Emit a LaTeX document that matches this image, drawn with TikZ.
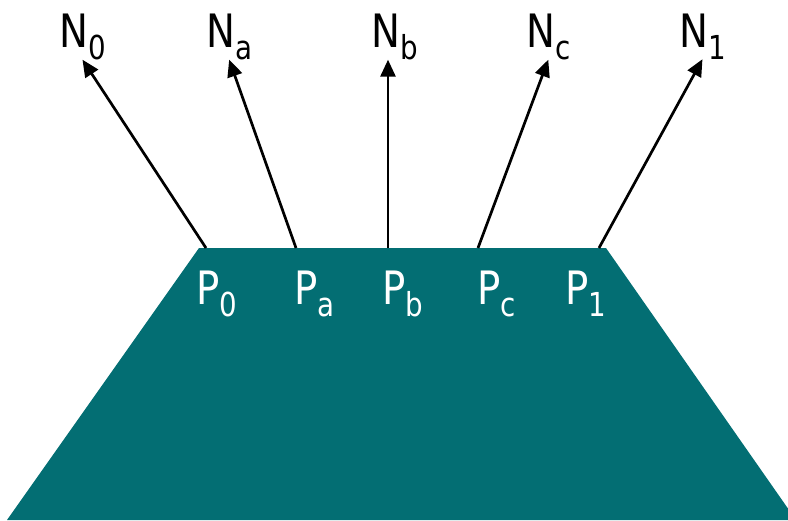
\documentclass[tikz,border=0pt]{standalone}
\usepackage{fontspec}
\setsansfont{DejaVu Sans}[FakeStretch=0.84]
\usepackage{tikz}
\usetikzlibrary{arrows.meta,positioning,calc}
\definecolor{plate}{RGB}{3,110,115}
\newcommand\sbs[1]{\raisebox{-12pt}{\fontsize{33}{33}\selectfont #1}}

\begin{document}
\begin{tikzpicture}[x=1pt,y=-1pt,
  lbl/.style={inner sep=0pt,anchor=base west,font=\sffamily\fontsize{46}{46}\selectfont},
  arr/.style={-{Triangle[length=17pt,width=15pt]},line width=2.7pt}]
\useasboundingbox (0,0) rectangle (788,520);
\fill[plate] (199,248) -- (606,248) -- (796,520) -- (7,520) -- cycle;
% points on the top edge
\coordinate (e0) at (206,248);\coordinate (ea) at (296,248);\coordinate (eb) at (388,248);
\coordinate (ec) at (478,248);\coordinate (e1) at (599,248);
\node[lbl,white] (p0) at (196,304) {P\sbs{0}};
\node[lbl,white] (pa) at (294,304) {P\sbs{a}};
\node[lbl,white] (pb) at (382,304) {P\sbs{b}};
\node[lbl,white] (pc) at (477,304) {P\sbs{c}};
\node[lbl,white] (p1) at (565,304) {P\sbs{1}};
\node[lbl] (n0) at (59,47) {N\sbs{0}};
\node[lbl] (na) at (206,47) {N\sbs{a}};
\node[lbl] (nb) at (371,47) {N\sbs{b}};
\node[lbl] (nc) at (526,47) {N\sbs{c}};
\node[lbl] (n1) at (679,47) {N\sbs{1}};
\draw[arr] (e0)--(n0.south);\draw[arr] (ea)--(na.south);\draw[arr] (eb)--(eb |- nb.south);
\draw[arr] (ec)--(nc.south);\draw[arr] (e1)--(n1.south);
\end{tikzpicture}
\end{document}
